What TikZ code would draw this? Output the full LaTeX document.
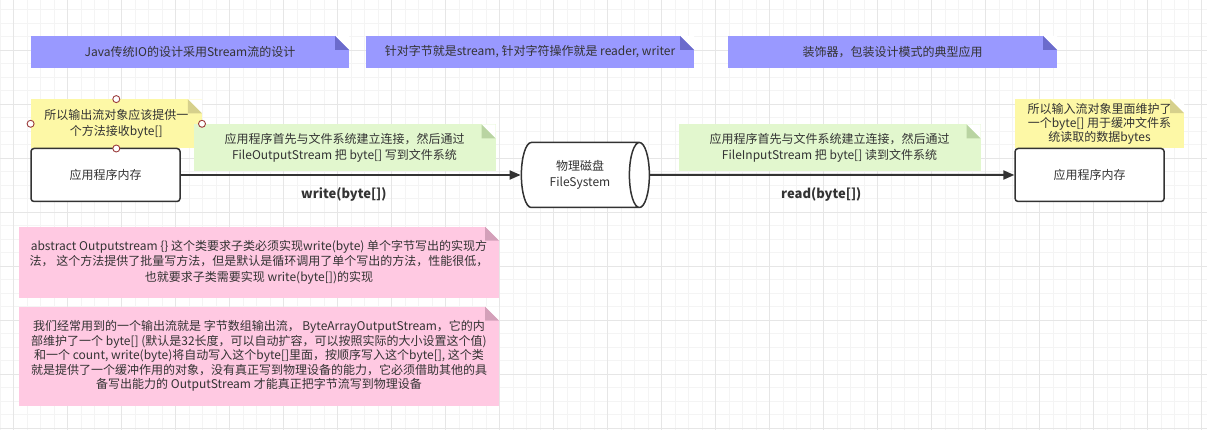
\documentclass[tikz,border=0pt]{standalone}
\usepackage{fontspec}
\setmainfont{Noto Sans CJK SC}
\usepackage{xcolor}
\usetikzlibrary{shapes.geometric, arrows.meta, positioning, calc}

\definecolor{ink}{HTML}{333333}
\definecolor{gridminor}{HTML}{F4F4F4}
\definecolor{gridmajor}{HTML}{E6E6E6}
\definecolor{purplenote}{HTML}{9999FF}
\definecolor{purplefold}{HTML}{6B6BCC}
\definecolor{yellownote}{HTML}{FDF8A6}
\definecolor{yellowfold}{HTML}{D6D08C}
\definecolor{greennote}{HTML}{E2F7CE}
\definecolor{greenfold}{HTML}{B9D4A2}
\definecolor{pinknote}{HTML}{FFC9E2}
\definecolor{pinkfold}{HTML}{D3A0B9}
\definecolor{handlered}{HTML}{9B3B3B}

\begin{document}
\begin{tikzpicture}[x=1pt, y=-1pt,
    every node/.style={text=ink, inner sep=0pt, align=center,
        font=\fontsize{12}{15.5}\selectfont},
    note/.style 2 args={fill=#1, path picture={
        \fill[white] ([xshift=-14pt]path picture bounding box.north east)
            -- (path picture bounding box.north east)
            -- ([yshift=-14pt]path picture bounding box.north east) -- cycle;
        \fill[#2] ([xshift=-14pt]path picture bounding box.north east)
            -- ([xshift=-14pt,yshift=-14pt]path picture bounding box.north east)
            -- ([yshift=-14pt]path picture bounding box.north east) -- cycle;}},
    membox/.style={draw=ink, line width=1.5pt, rounded corners=3pt, fill=white,
        minimum width=149pt, minimum height=53pt},
    disk/.style={shape=cylinder, draw=ink, line width=1.5pt, fill=white,
        shape aspect=0.7, minimum width=65pt, minimum height=128pt},
    flow/.style={draw=ink, line width=2pt, -{Triangle[length=11pt,width=9pt]}},
    flowlabel/.style={below=12pt, font=\fontsize{13}{15}\selectfont\bfseries},
    handle/.style={draw=handlered, fill=white, line width=0.9pt}]
\useasboundingbox (0,0) rectangle (1207,430);
\fill[white] (0,0) rectangle (1207,430);
% background grid
\foreach \x in {0,13.5,...,1207} \draw[gridminor, line width=1pt] (\x,0) -- (\x,430);
\foreach \y in {9.8,23.3,...,430} \draw[gridminor, line width=1pt] (0,\y) -- (1207,\y);
\foreach \x in {13.5,67.5,...,1207} \draw[gridmajor, line width=1pt] (\x,0) -- (\x,430);
\foreach \y in {50.3,104.3,...,430} \draw[gridmajor, line width=1pt] (0,\y) -- (1207,\y);

% headline notes
\node[note={purplenote}{purplefold}, minimum width=318pt, minimum height=32pt]
    (head1) at (190,52) {Java传统IO的设计采用Stream流的设计};
\node[note={purplenote}{purplefold}, minimum width=328pt, minimum height=32pt]
    (head2) at (530,52) {针对字节就是stream, 针对字符操作就是 reader, writer};
\node[note={purplenote}{purplefold}, minimum width=329pt, minimum height=32pt]
    (head3) at (892.5,52) {装饰器，包装设计模式的典型应用};

% write path
\node[note={yellownote}{yellowfold}, minimum width=171pt, minimum height=49pt]
    (outnote) at (116.3,123.8) {所以输出流对象应该提供一\\个方法接收byte[]};
\node[membox] (memout) at (105.5,175) {应用程序内存};
\node[note={greennote}{greenfold}, minimum width=302pt, minimum height=47pt]
    (writenote) at (344.5,148) {应用程序首先与文件系统建立连接，然后通过\\FileOutputStream 把 byte[] 写到文件系统};
\node[disk] (disk) at (580,175) {物理磁盘\\FileSystem};
\draw[flow] (memout) -- node[flowlabel, pos=0.48] {write(byte[])} (disk);
\foreach \a in {north,south,east,west}
    \draw[handle] (outnote.\a) circle (3.5pt);

% read path
\node[note={greennote}{greenfold}, minimum width=302pt, minimum height=47pt]
    (readnote) at (829.5,148) {应用程序首先与文件系统建立连接，然后通过\\FileInputStream 把 byte[] 读到文件系统};
\node[note={yellownote}{yellowfold}, minimum width=169pt, minimum height=49pt,
    font=\fontsize{12}{14}\selectfont]
    (innote) at (1099.5,123.7) {所以输入流对象里面维护了\\一个byte[] 用于缓冲文件系\\统读取的数据bytes};
\node[membox] (memin) at (1089.6,175) {应用程序内存};
\draw[flow] (disk) -- node[flowlabel, pos=0.47] {read(byte[])} (memin);

% explanations
\node[note={pinknote}{pinkfold}, minimum width=480pt, minimum height=71pt]
    (absnote) at (259,262.2) {abstract Outputstream \{\} 这个类要求子类必须实现write(byte) 单个字节写出的实现方\\法， 这个方法提供了批量写方法，但是默认是循环调用了单个写出的方法，性能很低，\\也就要求子类需要实现 write(byte[])的实现};
\node[note={pinknote}{pinkfold}, minimum width=480pt, minimum height=99pt,
    font=\fontsize{12}{14.5}\selectfont]
    (bytenote) at (259,356.2) {我们经常用到的一个输出流就是 字节数组输出流， ByteArrayOutputStream，它的内\\部维护了一个 byte[] (默认是32长度，可以自动扩容，可以按照实际的大小设置这个值)\\和一个 count, write(byte)将自动写入这个byte[]里面，按顺序写入这个byte[], 这个类\\就是提供了一个缓冲作用的对象，没有真正写到物理设备的能力，它必须借助其他的具\\备写出能力的 OutputStream 才能真正把字节流写到物理设备};
\end{tikzpicture}
\end{document}
